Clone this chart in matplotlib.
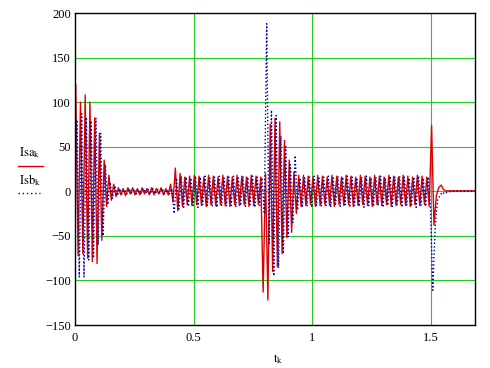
import numpy as np
import matplotlib.pyplot as plt
from matplotlib.lines import Line2D

plt.rcParams['font.family'] = ['Liberation Serif', 'DejaVu Serif']
plt.rcParams['mathtext.fontset'] = 'stix'

# peak values of each half cycle
# Isa: sampled at t = 0, then 0.003 + 0.01*k
isa_start = [30]
isa_inrush = [120, -72, 100, -70, 108, -75, 100, -79, 82, -81, 65, -55, 35, -17, 18, -10, 8, -6]
isa_idle = [4, -4, 3, -5, 4, -3, 4, -4, 3, -4, 4, -3, 3, -4, 4, -4, 3, -3, 4, -4, 3, -4]
isa_load_on = [8, -12, 26, -22, 20, -17]
isa_load = [16, -15, 17, -16, 18, -15, 17, -16, 16, -17,
            18, -15, 17, -16, 16, -15, 18, -16, 17, -17,
            16, -15, 18, -16, 17, -15, 16, -17, 18, -16,
            17, -15, 16]
isa_fault = [-113, 20, -122, 75, -90, 82, -85, 78, -70, 57, -52, 35, -46, 22, -25, 18, -17]
isa_after = [18, -16, 17, -15, 16, -17, 18, -16, 17, -15,
             16, -16, 18, -17, 17, -15, 16, -16, 18, -15,
             17, -17, 16, -16, 18, -15, 17, -16, 16, -17,
             18, -15, 17, -16, 16, -15, 18, -17, 17, -16,
             16, -15, 18, -16, 17, -17, 16, -15, 18, -16,
             17, -15, 16, -17]
isa_off = [74, -38, -5, 4, 7, 2, 0.5, 0.5, 0.5, 0.5, 0.5, 0.5, 0.5, 0.5, 0.5, 0.5, 0.5, 0.5, 0.5]

# Isb: sampled at t = 0, then 0.008 + 0.01*k
isb_start = [-60]
isb_inrush = [80, -96, 87, -96, 83, -77, 79, -75, 82, -60, 65, -50, 30, -15, 10, -8, 6, -5]
isb_idle = [3, -3, 2, -3, 3, -2, 3, -3, 2, -3, 3, -2, 2, -3, 3, -3, 2, -2, 3, -3, 2, -3]
isb_load_on = [3, -25, 15, -20, 17, -18]
isb_load = [16, -17, 15, -16, 17, -18, 16, -15, 17, -16,
            15, -17, 16, -18, 17, -16, 15, -17, 16, -16,
            17, -18, 15, -16, 17, -17, 16, -15, 17, -18,
            16, -16, 15]
isb_fault = [-25, 188, -60, 91, -95, 85, -86, 62, -70, 50, -51, 30, -35, 40, -21, 15, -18]
isb_after = [15, -17, 16, -18, 17, -16, 15, -17, 16, -16,
             17, -18, 15, -16, 17, -17, 16, -15, 17, -18,
             16, -16, 15, -17, 16, -18, 17, -16, 15, -17,
             16, -16, 17, -18, 15, -16, 17, -17, 16, -15,
             17, -18, 16, -16, 15, -17, 16, -18, 17, -16,
             15, -17, 16, -16]
isb_off = [-111, -40, -10, -5, -1, -3, -1, -0.5, 0, 0, 0, 0, 0, 0, 0, 0, 0, 0, 0]

isa = np.array(isa_start + isa_inrush + isa_idle + isa_load_on + isa_load + isa_fault + isa_after + isa_off)
isb = np.array(isb_start + isb_inrush + isb_idle + isb_load_on + isb_load + isb_fault + isb_after + isb_off)
t_a = np.concatenate([[0], 0.003 + 0.01 * np.arange(len(isa) - 1)])
t_b = np.concatenate([[0], 0.008 + 0.01 * np.arange(len(isb) - 1)])

fig = plt.figure(figsize=(4.9, 3.68), dpi=100)
ax = fig.add_axes([75 / 490, 43 / 368, 400 / 490, 312 / 368])

for y in [-100, -50, 50, 100, 150]:
    ax.axhline(y, color='#22cc22', lw=0.8, zorder=0)
for x in [0.5, 1, 1.5]:
    ax.axvline(x, color='#22cc22', lw=0.8, zorder=0)
ax.axhline(0, color='#a09a00', lw=0.8, zorder=0)

ax.plot(t_a, isa, color='#dd0000', lw=1.0, zorder=2)
ax.plot(t_b, isb, color='#000099', lw=1.0, ls=(0, (1, 1.6)), zorder=3)

ax.set_xlim(0, 1.686)
ax.set_ylim(-150, 200)
ax.set_xticks([0, 0.5, 1, 1.5])
ax.set_xticklabels(['0', '0.5', '1', '1.5'])
ax.set_yticks([-150, -100, -50, 0, 50, 100, 150, 200])
ax.tick_params(length=0, labelsize=9)
ax.tick_params(axis='y', pad=3)
ax.tick_params(axis='x', pad=5)
for s in ax.spines.values():
    s.set_color('black')
    s.set_linewidth(1.0)

# Mathcad style trace labels on the left
fig.text(30 / 490, 1 - 153 / 368, r'$\mathrm{Isa}_{\mathrm{k}}$', ha='center', va='center', fontsize=9)
fig.add_artist(Line2D([18 / 490, 43 / 490], [1 - 165.5 / 368] * 2, color='#dd0000', lw=1.0))
fig.text(30 / 490, 1 - 180 / 368, r'$\mathrm{Isb}_{\mathrm{k}}$', ha='center', va='center', fontsize=9)
fig.add_artist(Line2D([18 / 490, 40 / 490], [1 - 193 / 368] * 2, color='#000099', lw=1.0, ls=(0, (1, 2))))
fig.text(278 / 490, 1 - 359 / 368, r'$\mathrm{t}_{\mathrm{k}}$', ha='center', va='center', fontsize=9)

fig.savefig('out.png', dpi=100)
